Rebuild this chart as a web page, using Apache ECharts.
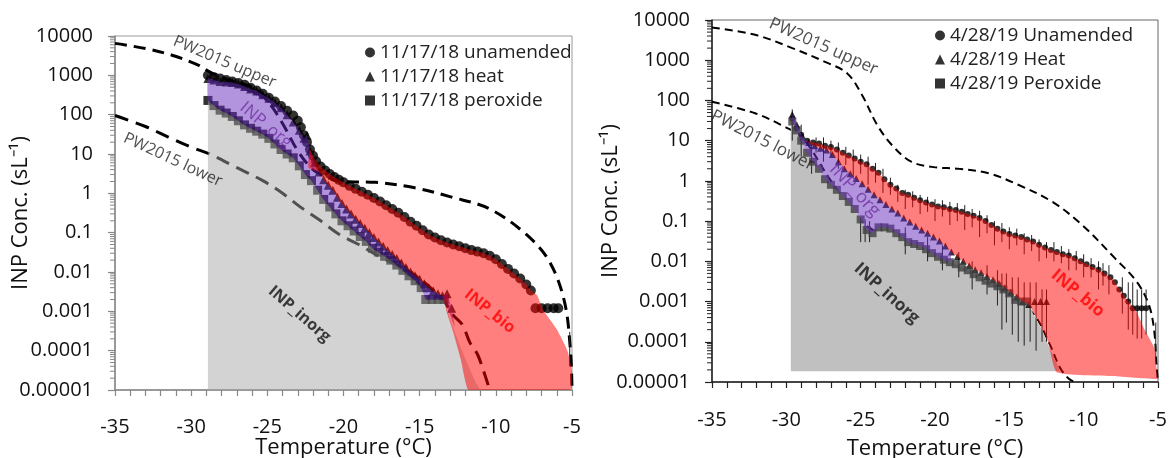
<!DOCTYPE html>
<html>
<head>
<meta charset="utf-8">
<script src="https://cdn.jsdelivr.net/npm/echarts@6/dist/echarts.min.js"></script>
<style>
  html, body { margin: 0; padding: 0; background: #fff; }
  #chart { width: 1170px; height: 458px; }
</style>
</head>
<body>
<div id="chart"></div>
<script>
// ---- tick labels ----
const yTickLabels = ['0.00001', '0.0001', '0.001', '0.01', '0.1', '1', '10', '100', '1000', '10000'];
const yDecades = [0.00001, 0.0001, 0.001, 0.01, 0.1, 1, 10, 100, 1000];
const yMinorSteps = [2, 3, 4, 5, 6, 7, 8, 9];

// ---- left panel (11/17/18) : [temperature, INP conc] ----
const leftUnamended = [[-28.9,1000],[-28.5,900],[-28.1,830],[-27.7,760],[-27.3,700],[-26.9,640],[-26.5,580],[-26.1,480],[-25.7,410],[-25.3,340],[-24.9,270],[-24.5,215],[-24.1,165],[-23.7,125],[-23.3,95],[-23.0,70],[-22.8,48],[-22.6,30],[-22.4,20],[-22.2,13],[-22.0,9],[-21.8,6.5],[-21.5,4.8],[-21.2,3.8],[-20.9,3.1],[-20.6,2.6],[-20.3,2.2],[-20.0,1.9],[-19.6,1.55],[-19.2,1.3],[-18.8,1.1],[-18.4,0.92],[-18.0,0.76],[-17.6,0.62],[-17.2,0.5],[-16.8,0.4],[-16.4,0.32],[-16.0,0.25],[-15.6,0.19],[-15.2,0.15],[-14.8,0.115],[-14.4,0.09],[-14.0,0.075],[-13.6,0.064],[-13.2,0.056],[-12.8,0.05],[-12.4,0.045],[-12.0,0.04],[-11.6,0.036],[-11.2,0.033],[-10.8,0.03],[-10.4,0.026],[-10.0,0.021],[-9.6,0.016],[-9.2,0.012],[-8.8,0.0092],[-8.4,0.0068],[-8.0,0.0048],[-7.7,0.0034],[-7.4,0.0012],[-7.0,0.0012],[-6.6,0.0012],[-6.2,0.0012],[-5.9,0.0012]];
const leftHeat = [[-28.9,830],[-28.5,760],[-28.1,700],[-27.7,680],[-27.3,660],[-26.9,600],[-26.5,520],[-26.1,450],[-25.7,400],[-25.3,320],[-24.9,260],[-24.5,200],[-24.1,150],[-23.7,100],[-23.3,65],[-22.9,40],[-22.6,25],[-22.4,30],[-22.2,12],[-21.9,6],[-21.6,3.5],[-21.3,2.2],[-21.0,1.6],[-20.7,1.2],[-20.4,0.8],[-20.1,0.55],[-19.8,0.4],[-19.5,0.3],[-19.2,0.22],[-18.9,0.17],[-18.6,0.13],[-18.3,0.1],[-18.0,0.075],[-17.7,0.058],[-17.4,0.045],[-17.1,0.035],[-16.8,0.028],[-16.5,0.022],[-16.2,0.017],[-15.9,0.013],[-15.6,0.01],[-15.3,0.008],[-15.0,0.0065],[-14.7,0.005],[-14.4,0.004],[-14.1,0.0033],[-13.8,0.0028],[-13.5,0.0025],[-13.2,0.0028],[-12.9,0.0012]];
const leftPeroxide = [[-28.9,230],[-28.5,170],[-28.1,130],[-27.7,110],[-27.3,90],[-26.9,70],[-26.5,55],[-26.1,45],[-25.7,38],[-25.3,32],[-24.9,25],[-24.5,18],[-24.1,13],[-23.7,10],[-23.3,8],[-22.9,5],[-22.5,3],[-22.1,2.1],[-21.7,1.2],[-21.3,0.7],[-20.9,0.45],[-20.5,0.3],[-20.1,0.2],[-19.7,0.15],[-19.3,0.11],[-18.9,0.08],[-18.5,0.06],[-18.1,0.04],[-17.7,0.032],[-17.3,0.025],[-16.9,0.02],[-16.5,0.015],[-16.1,0.011],[-15.7,0.008],[-15.3,0.006],[-14.9,0.004],[-14.6,0.002],[-14.2,0.002],[-13.8,0.002],[-13.4,0.002]];
const leftUpper = [[-35,6500],[-33,4800],[-31.2,3200],[-29.5,1800],[-28.8,1230],[-27.5,750],[-25.8,460],[-24.8,180],[-24,60],[-23,12],[-22,4],[-21,2.5],[-20.1,2.0],[-17.9,1.9],[-15.4,1.4],[-12.9,0.8],[-10.4,0.4],[-8,0.09],[-6.5,0.019],[-5.5,0.0018],[-5.1,0.0001],[-5,0.000011]];
const leftLower = [[-35,95],[-33,50],[-31.5,27],[-30,15],[-28.8,10],[-27,4.5],[-25.3,2.1],[-24,1],[-22.8,0.44],[-21.5,0.2],[-20.3,0.091],[-19,0.05],[-17.9,0.028],[-16.5,0.015],[-15.4,0.0087],[-14.3,0.004],[-13.4,0.0018],[-12.8,0.0008],[-12.2,0.00046],[-11.7,0.00016],[-11.2,0.00008],[-10.8,0.00003],[-10.4,0.00001]];
const leftErrorBars = [[-5.15,0.00004,0.0003]];
// extra outline points of the shaded regions
const leftInorgTail = [[-13.0,0.0006],[-12.4,0.00015],[-11.8,0.00004],[-11.3,0.000015],[-11.0,0.00001]];
const leftOrgTail = [[-12.7,0.0004]];
const leftBioTail = [[-7.3,0.0026],[-6.9,0.0011],[-6.0,0.00035],[-5.3,0.0001],[-5.0,0.00003],[-5.05,0.0000105],[-7.0,0.00001],[-10.4,0.00001],[-11.8,0.00001],[-12.3,0.00006],[-12.8,0.0003],[-13.2,0.0009]];

// ---- right panel (4/28/19) ----
const rightUnamended = [[-29.6,35],[-29.3,20],[-29.0,14],[-28.6,10],[-28.2,9],[-27.8,8.5],[-27.4,7.5],[-27.0,7],[-26.6,6],[-26.2,5],[-25.8,4.3],[-25.4,3.6],[-25.0,3],[-24.6,2.6],[-24.2,2],[-23.8,1.6],[-23.4,1.1],[-23.0,0.8],[-22.6,0.65],[-22.2,0.5],[-21.8,0.45],[-21.4,0.38],[-21.0,0.33],[-20.6,0.29],[-20.2,0.26],[-19.8,0.23],[-19.4,0.22],[-19.0,0.2],[-18.6,0.19],[-18.2,0.17],[-17.8,0.15],[-17.4,0.135],[-17.0,0.12],[-16.6,0.1],[-16.2,0.08],[-15.8,0.065],[-15.4,0.055],[-15.0,0.048],[-14.6,0.044],[-14.2,0.04],[-13.8,0.035],[-13.4,0.031],[-13.0,0.026],[-12.6,0.022],[-12.2,0.019],[-11.8,0.017],[-11.4,0.015],[-11.0,0.014],[-10.6,0.012],[-10.2,0.01],[-9.8,0.0085],[-9.4,0.0072],[-9.0,0.0062],[-8.6,0.005],[-8.2,0.004],[-7.9,0.003],[-7.6,0.002],[-7.3,0.0014],[-7.0,0.001],[-6.7,0.00068],[-6.4,0.00068],[-6.1,0.00068],[-5.8,0.00068]];
const rightHeat = [[-29.6,45],[-29.3,25],[-28.9,12.3],[-28.5,9],[-28.1,7.5],[-27.7,6.5],[-27.3,5.9],[-26.9,4.5],[-26.5,3],[-26.1,2],[-25.7,1.5],[-25.3,1.15],[-24.9,0.85],[-24.5,0.62],[-24.1,0.45],[-23.7,0.34],[-23.3,0.26],[-22.9,0.2],[-22.5,0.16],[-22.1,0.12],[-21.7,0.095],[-21.3,0.075],[-20.9,0.06],[-20.5,0.05],[-20.1,0.04],[-19.7,0.032],[-19.3,0.024],[-18.9,0.017],[-18.5,0.013],[-18.1,0.01],[-17.7,0.0078],[-17.3,0.0062],[-16.9,0.0052],[-16.5,0.0042],[-16.1,0.0035],[-15.7,0.0028],[-15.3,0.0022],[-14.9,0.0017],[-14.5,0.0013],[-14.1,0.001],[-13.7,0.00085],[-13.3,0.001],[-12.9,0.001],[-12.5,0.001]];
const rightPeroxide = [[-29.6,30],[-29.3,18],[-29.0,10],[-28.6,5],[-28.2,3],[-27.8,2],[-27.4,1.1],[-27.0,0.8],[-26.6,0.6],[-26.2,0.42],[-25.8,0.3],[-25.4,0.2],[-25.0,0.11],[-24.6,0.06],[-24.2,0.05],[-23.8,0.07],[-23.4,0.07],[-23.0,0.065],[-22.6,0.05],[-22.2,0.04],[-21.8,0.03],[-21.4,0.027],[-21.0,0.024],[-20.6,0.02],[-20.2,0.016],[-19.8,0.013],[-19.4,0.011],[-19.0,0.0095],[-18.6,0.0085],[-18.2,0.007],[-17.8,0.006],[-17.4,0.0048],[-17.0,0.004],[-16.6,0.0033],[-16.2,0.0028],[-15.8,0.0024],[-15.4,0.002],[-15.0,0.0016],[-14.6,0.0011],[-14.2,0.001],[-13.8,0.001]];
const rightUpper = [[-35,6500],[-32.1,4300],[-29.6,2000],[-27.4,910],[-25.9,470],[-24.9,135],[-23.9,25],[-22.9,7.8],[-21.6,3],[-20.1,2.2],[-18.4,2.0],[-16.4,1.55],[-14.4,0.8],[-12.1,0.3],[-10.1,0.08],[-7.9,0.012],[-6.4,0.003],[-5.6,0.0008],[-5.25,0.00018],[-5.1,0.000026],[-5,0.00001]];
const rightLower = [[-35,93],[-32.1,48],[-30.4,25],[-28.9,11.5],[-27,1],[-25,0.1],[-22.5,0.03],[-20,0.01],[-17.5,0.004],[-15,0.0012],[-13.4,0.0005],[-12.3,0.00009],[-11.6,0.000023],[-11.0,0.000012],[-10.6,0.00001]];
const rightErrorBars = [[-29.6,10,60],[-29.0,4,25],[-28.3,1.5,8],[-28,5,12],[-27.5,3,12],[-27,4,10],[-26.5,2,9],[-26,2.5,7],[-25.5,1.2,6],[-25,1.5,4.5],[-24.5,0.8,4],[-24,0.9,2.8],[-23.5,0.5,2],[-23,0.45,1.2],[-22.5,0.3,0.8],[-21.5,0.22,0.55],[-20.5,0.17,0.4],[-19.5,0.13,0.33],[-18.5,0.1,0.28],[-17.5,0.07,0.2],[-16.5,0.05,0.14],[-15.5,0.03,0.09],[-14.5,0.025,0.065],[-13.5,0.018,0.045],[-12.5,0.012,0.03],[-11.5,0.009,0.024],[-10.5,0.006,0.018],[-9.5,0.004,0.012],[-8.7,0.0025,0.009],[-25.0,0.03,0.12],[-24.7,0.03,0.11],[-24.4,0.03,0.1],[-22,0.2,0.6],[-21,0.15,0.45],[-20,0.1,0.35],[-19,0.08,0.3],[-18,0.06,0.25],[-17,0.04,0.18],[-16,0.025,0.1],[-15,0.02,0.07],[-14,0.015,0.05],[-13,0.01,0.035],[-22.0,0.015,0.07],[-20.5,0.01,0.04],[-19.5,0.006,0.025],[-18.4,0.004,0.017],[-17.5,0.002,0.01],[-16.5,0.0015,0.008],[-15.8,0.0008,0.006],[-15.5,0.0002,0.005],[-15.2,0.0003,0.005],[-14.8,0.00015,0.004],[-14.4,0.0001,0.004],[-14.0,0.00008,0.003],[-13.6,0.0001,0.003],[-13.2,0.00006,0.003],[-12.8,0.0001,0.002],[-12.5,0.0001,0.002],[-12.0,0.01,0.03],[-11.0,0.006,0.02],[-10.0,0.004,0.015],[-9.0,0.002,0.01],[-8.3,0.0015,0.008],[-7.4,0.0005,0.004],[-7.0,0.0002,0.003],[-6.7,0.00015,0.003],[-6.4,0.00012,0.002],[-6.1,0.00012,0.002],[-5.8,0.00015,0.002],[-5.15,0.00003,0.0003]];
const rightInorgHead = [[-29.7,0.0000185],[-29.7,30]];
const rightInorgTail = [[-13.4,0.0005],[-12.8,0.0002],[-12.3,0.00007],[-11.9,0.000035],[-11.6,0.0000185]];
const rightBioTail = [[-6.5,0.0006],[-5.9,0.0002],[-5.25,0.00007],[-5.05,0.000015],[-5.0,0.0000118],[-8.0,0.000014],[-11.8,0.0000175],[-12.4,0.0001],[-13.0,0.0003]];

// annotations: [temperature, conc, text, angle]
const leftNotes = [[-27.8,2190,'PW2015 upper',-23],[-31.2,7.1,'PW2015 lower',-25],[-25.1,54,'INP_org',-40],[-22.9,0.00085,'INP_inorg',-41],[-10.4,0.001,'INP_bio',-39]];
const rightNotes = [[-27.5,2190,'PW2015 upper',-24],[-31.6,10.2,'PW2015 lower',-27],[-25.4,0.59,'INP_org',-47],[-23.25,0.0016,'INP_inorg',-42],[-10.4,0.0016,'INP_bio',-40]];

const leftNames = ['11/17/18 unamended', '11/17/18 heat', '11/17/18 peroxide'];
const rightNames = ['4/28/19 Unamended', '4/28/19 Heat', '4/28/19 Peroxide'];

const FONT = '"Open Sans", "Liberation Sans", sans-serif';

function inRange(arr, lo, hi) {
  return arr.filter(p => p[0] >= lo && p[0] <= hi);
}

function dots(name, data, gi, symbol, size, color) {
  return { name: name, type: 'scatter', xAxisIndex: gi, yAxisIndex: gi, data: data,
    symbol: symbol, symbolSize: size, itemStyle: { color: color }, z: 3, silent: true };
}

function curve(data, gi, width, dash) {
  return { type: 'line', xAxisIndex: gi, yAxisIndex: gi, data: data, smooth: 0.35,
    showSymbol: false, silent: true, z: 1,
    lineStyle: { color: '#000', width: width, type: dash } };
}

function region(pts, gi, fill, z, smooth) {
  return { type: 'custom', xAxisIndex: gi, yAxisIndex: gi, data: pts, z: z, silent: true, clip: true,
    renderItem: function (params, api) {
      if (params.dataIndex !== 0) return null;
      return { type: 'polygon',
        shape: { points: pts.map(p => api.coord(p)), smooth: smooth },
        style: { fill: fill } };
    } };
}

function errorBars(data, gi, color) {
  return { type: 'custom', xAxisIndex: gi, yAxisIndex: gi, data: data, z: 2, silent: true, clip: true,
    encode: { x: 0, y: [1, 2] },
    renderItem: function (params, api) {
      const a = api.coord([api.value(0), api.value(1)]);
      const b = api.coord([api.value(0), api.value(2)]);
      return { type: 'line', shape: { x1: a[0], y1: a[1], x2: b[0], y2: b[1] },
        style: { stroke: color, lineWidth: 1 } };
    } };
}

// log-spaced minor ticks (2..9 x 10^k) on the y axis
function logMinorTicks(gi, color) {
  const vals = [];
  yDecades.forEach(d => yMinorSteps.forEach(s => vals.push([-35, d * s])));
  return { type: 'custom', xAxisIndex: gi, yAxisIndex: gi, data: vals, z: 20, silent: true, clip: false,
    renderItem: function (params, api) {
      const p = api.coord([api.value(0), api.value(1)]);
      return { type: 'line', shape: { x1: p[0] - 5, y1: p[1], x2: p[0], y2: p[1] },
        style: { stroke: color, lineWidth: 1 } };
    } };
}

function noteStyle(text, big) {
  if (text === 'INP_org') return { color: '#7030a0', fontSize: big ? 18 : 17 };
  if (text === 'INP_inorg') return { color: '#111', fontSize: big ? 17 : 16, fontWeight: 'bold' };
  if (text === 'INP_bio') return { color: '#ff0000', fontSize: big ? 17 : 16, fontWeight: 'bold' };
  return { color: '#222', fontSize: big ? 17 : 16 };
}

function notes(list, gi, big) {
  return { type: 'scatter', xAxisIndex: gi, yAxisIndex: gi, symbolSize: 1, z: 10, silent: true,
    itemStyle: { color: 'rgba(0,0,0,0)' },
    data: list.map(n => ({ value: [n[0], n[1]],
      label: Object.assign({ show: true, formatter: n[2], rotate: n[3], position: 'inside',
        align: 'center', verticalAlign: 'middle', fontFamily: FONT }, noteStyle(n[2], big)) })) };
}

function xAxis(gi, color, margin, gap) {
  return { type: 'value', gridIndex: gi, min: -35, max: -5, interval: 5,
    axisLine: { onZero: false, lineStyle: { color: color, width: 1.5 } },
    axisTick: { show: true, length: 6, lineStyle: { color: color, width: 1.2 } },
    minorTick: { show: true, splitNumber: 5, length: 6, lineStyle: { color: color, width: 1.2 } },
    splitLine: { show: false },
    axisLabel: { fontSize: 20, color: '#111', margin: margin, fontFamily: FONT },
    name: 'Temperature (°C)', nameLocation: 'middle', nameGap: gap, nameMoveOverlap: false,
    nameTextStyle: { fontSize: 22, color: '#111', fontFamily: FONT } };
}

function yAxis(gi, color, gap) {
  return { type: 'log', logBase: 10, gridIndex: gi, min: 0.00001, max: 10000, splitNumber: 9,
    axisLine: { show: true, onZero: false, lineStyle: { color: color, width: 1.5 } },
    axisTick: { show: true, length: 7, lineStyle: { color: color, width: 1.2 } },
    minorTick: { show: false },
    splitLine: { show: false },
    axisLabel: { fontSize: 20, color: '#111', margin: 22, fontFamily: FONT,
      formatter: v => yTickLabels[Math.round(Math.log10(v)) + 5] },
    name: 'INP Conc. (sL⁻¹)', nameLocation: 'middle', nameGap: gap, nameRotate: 90, nameMoveOverlap: false,
    nameTextStyle: { fontSize: 22, color: '#111', fontFamily: FONT } };
}

function legend(names, left, top) {
  const icons = ['circle', 'triangle', 'rect'];
  return { orient: 'vertical', left: left, top: top, itemGap: 5, itemWidth: 10, itemHeight: 10,
    textStyle: { fontSize: 19, color: '#222', fontFamily: FONT },
    data: names.map((n, i) => ({ name: n, icon: icons[i], itemStyle: { color: '#000' } })) };
}

// regions built from the measured curves
const leftInorg = [[-28.9, 0.00001]].concat(leftPeroxide, leftInorgTail);
const leftOrg = inRange(leftHeat, -29, -12.9).concat(leftOrgTail, leftPeroxide.slice().reverse());
const leftBio = inRange(leftUnamended, -22.3, -7.7).concat(leftBioTail,
  inRange(leftHeat, -21.6, -13.5).reverse(), [[-22.3, 4.5]]);

const rightInorg = rightInorgHead.concat(rightPeroxide, rightInorgTail);
const rightOrg = inRange(rightHeat, -29.7, -18.9).concat(inRange(rightPeroxide, -29.7, -19.0).reverse());
const rightBio = inRange(rightUnamended, -28.6, -7.0).concat(rightBioTail,
  inRange(rightHeat, -28.6, -13.7).reverse());

const chart = echarts.init(document.getElementById('chart'));
chart.setOption({
  animation: false,
  backgroundColor: '#fff',
  grid: [
    { left: 115, top: 36, width: 457, height: 354, show: true, borderColor: '#999', borderWidth: 1,
      outerBoundsMode: 'none', containLabel: false },
    { left: 712, top: 20, width: 446, height: 362, show: true, borderColor: '#666', borderWidth: 1,
      outerBoundsMode: 'none', containLabel: false }
  ],
  xAxis: [xAxis(0, '#888', 27, 47), xAxis(1, '#222', 28, 56)],
  yAxis: [yAxis(0, '#888', 83), yAxis(1, '#222', 90)],
  legend: [legend(leftNames, 360, 38), legend(rightNames, 930, 21)],
  series: [
    // left panel
    curve(leftUpper, 0, 3, [12, 7]),
    curve(leftLower, 0, 3, [14, 8]),
    errorBars(leftErrorBars, 0, '#222'),
    dots(leftNames[0], leftUnamended, 0, 'circle', 10, '#000'),
    dots(leftNames[1], leftHeat, 0, 'triangle', 9, '#000'),
    dots(leftNames[2], leftPeroxide, 0, 'rect', 9, '#000'),
    region(leftInorg, 0, 'rgba(165,165,165,0.49)', 4, 0),
    region(leftOrg, 0, 'rgba(100,40,190,0.5)', 5, 0.15),
    region(leftBio, 0, 'rgba(255,0,0,0.5)', 6, 0.15),
    notes(leftNotes, 0, false),
    logMinorTicks(0, '#888'),
    // right panel
    curve(rightUpper, 1, 2, [8, 5]),
    curve(rightLower, 1, 2, [8, 5]),
    region(rightInorg, 1, '#c0c0c0', 2, 0),
    errorBars(rightErrorBars, 1, '#222'),
    dots(rightNames[0], rightUnamended, 1, 'circle', 6, '#000'),
    dots(rightNames[1], rightHeat, 1, 'triangle', 7, '#000'),
    dots(rightNames[2], rightPeroxide, 1, 'rect', 8, '#404040'),
    region(rightOrg, 1, 'rgba(100,40,190,0.5)', 5, 0.15),
    region(rightBio, 1, 'rgba(255,0,0,0.5)', 6, 0.15),
    notes(rightNotes, 1, true),
    logMinorTicks(1, '#222')
  ]
});
</script>
</body>
</html>
